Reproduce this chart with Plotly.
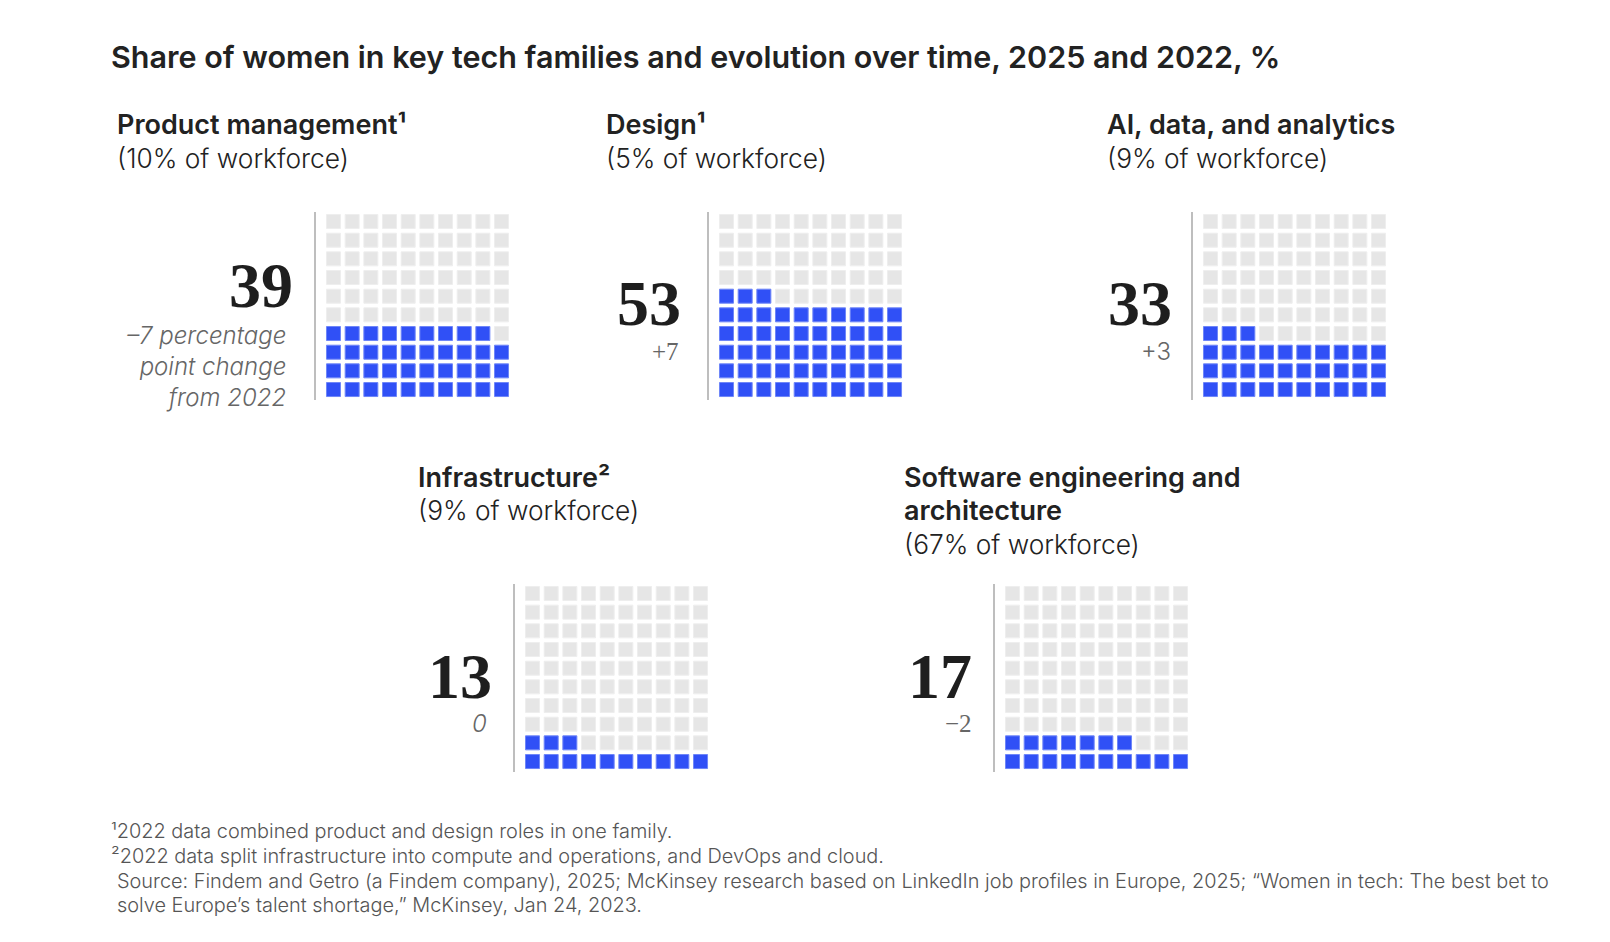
import plotly.graph_objects as go

# data
families = ["Product management", "Design", "AI, data, and analytics",
            "Infrastructure", "Software engineering and architecture"]
title_lines = [["Product management\u00b9"], ["Design\u00b9"],
               ["AI, data, and analytics"], ["Infrastructure\u00b2"],
               ["Software engineering and", "architecture"]]
workforce_share = [10, 5, 9, 9, 67]
share_2025 = [39, 53, 33, 13, 17]
change_labels = ["\u20137 percentage<br>point change<br>from 2022", "+7", "+3", "0", "\u22122"]

footnotes = [
    "\u00b92022 data combined product and design roles in one family.",
    "\u00b22022 data split infrastructure into compute and operations, and DevOps and cloud.",
]
source_lines = [
    "Source: Findem and Getro (a Findem company), 2025; McKinsey research based on LinkedIn job profiles in Europe, 2025; \u201cWomen in tech: The best bet to",
    "solve Europe\u2019s talent shortage,\u201d McKinsey, Jan 24, 2023.",
]

W, H = 1610, 942
BLUE = "#3050F6"
GREY = "#E6E6E6"
SANS = "Inter"
SERIF = "Liberation Serif"

# layout of each panel (left edge of first square, top of grid) in pixels
origins = [(326, 214), (719, 214), (1203, 214), (525, 586), (1005, 586)]
head_pos = [(115, 125), (604, 125), (1105, 125), (416, 477), (902, 477)]
number_dx = [31, 36, 29, 31, 31]
number_dy = [72, 89, 89, 90, 90]
change_dx = [38, 38, 30, 36, 31]
change_font = [(SANS, "italic"), (SERIF, "normal"), (SANS, "normal"),
               (SANS, "italic"), (SERIF, "normal")]
pitch, sq = 18.67, 15


def px(x):
    return x / W


def py(y):
    return 1 - y / H


fig = go.Figure()
annotations = []
shapes = []

for i, value in enumerate(share_2025):
    n = i + 1
    ox, oy = origins[i]
    x0 = ox + sq / 2 - pitch / 2
    ytop = oy + sq / 2 - pitch / 2
    fig.layout[f"xaxis{n}"] = dict(domain=[px(x0), px(x0 + 10 * pitch)], range=[-0.5, 9.5],
                                   visible=False, fixedrange=True, anchor=f"y{n}")
    fig.layout[f"yaxis{n}"] = dict(domain=[py(ytop + 10 * pitch), py(ytop)], range=[-0.5, 9.5],
                                   visible=False, fixedrange=True, anchor=f"x{n}")

    # 10x10 waffle, filled from the bottom row, left to right
    cols = [k % 10 for k in range(100)]
    rows = [k // 10 for k in range(100)]
    colors = [BLUE if k < value else GREY for k in range(100)]
    edges = ["#6E86F8" if k < value else "#EEEEEE" for k in range(100)]
    fig.add_trace(go.Scatter(
        x=cols, y=rows, mode="markers", xaxis=f"x{n}", yaxis=f"y{n}",
        marker=dict(symbol="square", size=sq - 1, color=colors,
                    line=dict(color=edges, width=1)),
        hoverinfo="skip", showlegend=False))

    # divider line left of the grid
    shapes.append(dict(type="line", xref="paper", yref="paper",
                       x0=px(ox - 11), x1=px(ox - 11), y0=py(oy - 2), y1=py(oy + 186),
                       line=dict(color="#A8A8A8", width=1.5)))

    # headings
    hx, hy = head_pos[i]
    lines = title_lines[i] + [f"({workforce_share[i]}% of workforce)"]
    for j, txt in enumerate(lines):
        bold = j < len(title_lines[i])
        annotations.append(dict(
            x=px(hx), y=py(hy + j * 33.5), xref="paper", yref="paper",
            xanchor="left", yanchor="middle", showarrow=False, text=txt,
            font=dict(family=SANS, size=27 if bold else 26.3, color="#222222",
                      weight=600 if bold else 300)))

    # big number and change
    annotations.append(dict(
        x=px(ox - number_dx[i]), y=py(oy + number_dy[i]), xref="paper", yref="paper",
        xanchor="right", yanchor="middle", showarrow=False, text=str(value),
        font=dict(family=SERIF, size=64, color="#1E1E1E", weight=700)))
    fam, style = change_font[i]
    cy = oy + 152 if i == 0 else oy + 137
    annotations.append(dict(
        x=px(ox - change_dx[i]), y=py(cy), xref="paper", yref="paper",
        xanchor="right", yanchor="middle", showarrow=False, text=change_labels[i],
        align="right", font=dict(family=fam, size=24 if fam == SANS else 25,
                                 color="#666666", style=style, weight=300)))

annotations.append(dict(
    x=px(109), y=py(57), xref="paper", yref="paper", xanchor="left", yanchor="middle",
    showarrow=False, text="Share of women in key tech families and evolution over time, 2025 and 2022, %",
    font=dict(family=SANS, size=30.5, color="#222222", weight=600)))

for j, txt in enumerate(footnotes + source_lines):
    annotations.append(dict(
        x=px(109 if j < 2 else 115), y=py(831 + j * 24.8), xref="paper", yref="paper",
        xanchor="left", yanchor="middle", showarrow=False, text=txt,
        font=dict(family=SANS, size=19.9, color="#555555", weight=300)))

fig.update_layout(
    width=W, height=H, margin=dict(l=0, r=0, t=0, b=0),
    paper_bgcolor="white", plot_bgcolor="white",
    annotations=annotations, shapes=shapes, showlegend=False)

fig.write_html("out.html", config={"displayModeBar": False},
               post_script="document.body.style.margin='0';document.body.style.overflow='hidden';")
